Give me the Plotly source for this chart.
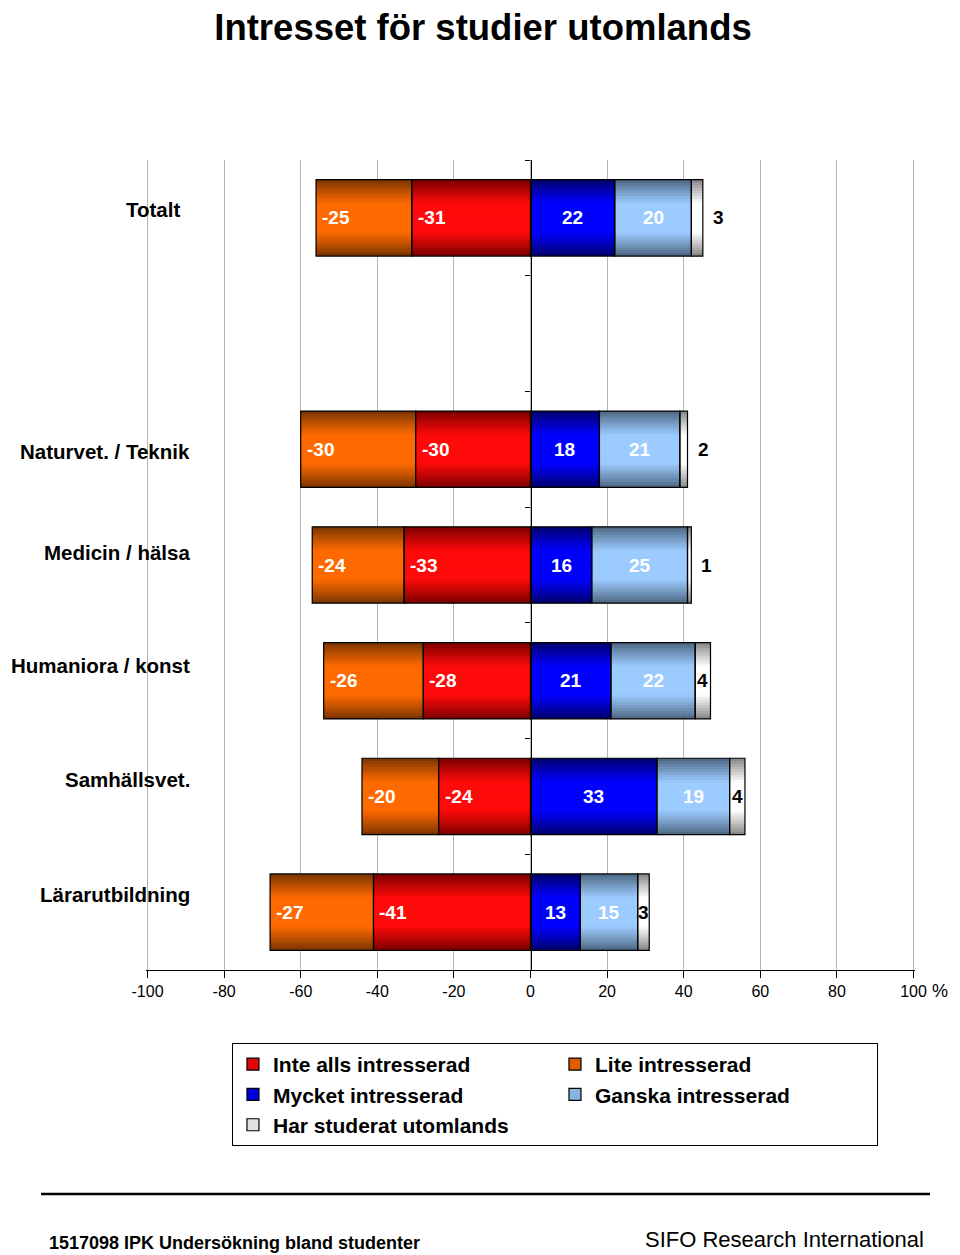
import plotly.graph_objects as go

# ---------------- data ----------------
categories = ["Totalt", " ", "Naturvet. / Teknik", "Medicin / hälsa",
              "Humaniora / konst", "Samhällsvet.", "Lärarutbildning"]
inte_alls = [-31, None, -30, -33, -28, -24, -41]      # Inte alls intresserad
lite = [-25, None, -30, -24, -26, -20, -27]           # Lite intresserad
mycket = [22, None, 18, 16, 21, 33, 13]               # Mycket intresserad
ganska = [20, None, 21, 25, 22, 19, 15]               # Ganska intresserad
har_studerat = [3, None, 2, 1, 4, 4, 3]               # Har studerat utomlands
x_ticks = [-100, -80, -60, -40, -20, 0, 20, 40, 60, 80, 100]

# ---------------- style ----------------
FONT = "Arial, Liberation Sans, Arimo, sans-serif"
BAR_W = 0.66
N_LAYERS = 14
label_yshift = [8, 0, -2, 13, 15, 17, 18]
label_xshift = [-10, 0, 0, 0, 0, 0, 0]
gray_label_outside = [True, False, True, True, False, False, False]


def hex2rgb(h):
    h = h.lstrip("#")
    return tuple(int(h[i:i + 2], 16) for i in (0, 2, 4))


def mix(c1, c2, t):
    a, b = hex2rgb(c1), hex2rgb(c2)
    return "rgb(%d,%d,%d)" % tuple(round(a[i] + (b[i] - a[i]) * t) for i in range(3))


def add(a, b):
    return [None if (x is None or y is None) else x + y for x, y in zip(a, b)]


zeros = [None if v is None else 0 for v in inte_alls]
base_inte = zeros
base_lite = inte_alls
base_mycket = zeros
base_ganska = mycket
base_har = add(mycket, ganska)

segments = [
    ("Inte alls intresserad", inte_alls, base_inte, "#7E0000", "#FF0A0A"),
    ("Lite intresserad", lite, base_lite, "#7E3600", "#FF6A00"),
    ("Mycket intresserad", mycket, base_mycket, "#000070", "#0000FF"),
    ("Ganska intresserad", ganska, base_ganska, "#506A86", "#9CCBFF"),
    ("Har studerat utomlands", har_studerat, base_har, "#8A8A8A", "#FFFFFF"),
]

fig = go.Figure()

# gradient layers (cylinder look)
for name, vals, base, dark, bright in segments:
    for k in range(N_LAYERS):
        w = BAR_W * (1 - k / N_LAYERS)
        t = min(1.0, k / (0.6 * N_LAYERS)) ** 0.9
        fig.add_trace(go.Bar(
            x=vals, y=categories, base=base, orientation="h", width=w,
            marker=dict(color=mix(dark, bright, t), line=dict(width=0)),
            showlegend=False, hoverinfo="skip"))

# outlines
for name, vals, base, dark, bright in segments:
    fig.add_trace(go.Bar(
        x=vals, y=categories, base=base, orientation="h", width=BAR_W,
        marker=dict(color="rgba(0,0,0,0)", line=dict(color="#000000", width=1.2)),
        showlegend=False, hoverinfo="skip"))

# legend entries
for name, vals, base, dark, bright in segments:
    fig.add_trace(go.Bar(
        x=[None], y=[categories[1]], orientation="h", name=name,
        marker=dict(color=mix(dark, bright, 0.75), line=dict(color="#000000", width=1.2)),
        showlegend=True))

annotations = []

# value labels
for i, cat in enumerate(categories):
    if inte_alls[i] is None:
        continue
    for vals, base in ((inte_alls, base_inte), (lite, base_lite)):
        annotations.append(dict(x=base[i] + vals[i], y=cat, xref="x", yref="y",
                                text="<b>%d</b>" % vals[i], showarrow=False,
                                xanchor="left", yanchor="middle", xshift=4,
                                font=dict(family=FONT, size=19, color="white")))
    for vals, base in ((mycket, base_mycket), (ganska, base_ganska)):
        annotations.append(dict(x=base[i] + vals[i] / 2, y=cat, xref="x", yref="y",
                                text="<b>%d</b>" % vals[i], showarrow=False,
                                xanchor="center", yanchor="middle",
                                font=dict(family=FONT, size=19, color="white")))
    if gray_label_outside[i]:
        annotations.append(dict(x=base_har[i] + har_studerat[i], y=cat, xref="x", yref="y",
                                text="<b>%d</b>" % har_studerat[i], showarrow=False,
                                xanchor="left", yanchor="middle", xshift=8,
                                font=dict(family=FONT, size=19, color="black")))
    else:
        annotations.append(dict(x=base_har[i] + har_studerat[i] / 2, y=cat, xref="x", yref="y",
                                text="<b>%d</b>" % har_studerat[i], showarrow=False,
                                xanchor="center", yanchor="middle",
                                font=dict(family=FONT, size=19, color="black")))

# category labels
for i, cat in enumerate(categories):
    if not cat.strip():
        continue
    annotations.append(dict(x=0.0598, y=cat, xref="paper", yref="y", text="<b>%s</b>" % cat,
                            showarrow=False, xanchor="right", yanchor="middle",
                            yshift=label_yshift[i], xshift=label_xshift[i],
                            font=dict(family=FONT, size=20.5, color="black")))

# percent sign
annotations.append(dict(x=1.0325, y=-0.026, xref="paper", yref="paper", text="%",
                        showarrow=False, xanchor="center", yanchor="middle",
                        font=dict(family=FONT, size=18, color="black")))
# footer
annotations.append(dict(x=-0.1287, y=-0.337, xref="paper", yref="paper",
                        text="<b>1517098 IPK Undersökning bland studenter</b>",
                        showarrow=False, xanchor="left", yanchor="middle",
                        font=dict(family=FONT, size=18, color="black")))
annotations.append(dict(x=1.0143, y=-0.3333, xref="paper", yref="paper",
                        text="SIFO Research International",
                        showarrow=False, xanchor="right", yanchor="middle",
                        font=dict(family=FONT, size=22, color="black")))

fig.update_layout(
    width=960, height=1255,
    margin=dict(l=138, r=53, t=152, b=293),
    paper_bgcolor="white", plot_bgcolor="white",
    barmode="overlay",
    font=dict(family=FONT, color="black"),
    title=dict(text="<b>Intresset för studier utomlands</b>", x=0.4948, xanchor="center",
               y=0.9849, yanchor="middle", xref="container", yref="container",
               font=dict(family=FONT, size=36.5, color="black")),
    xaxis=dict(range=[-100.4, 100.4], tickvals=x_ticks, ticktext=[str(v) for v in x_ticks],
               showgrid=True, gridcolor="#B4B4B4", gridwidth=1, zeroline=False,
               showline=True, linecolor="black", linewidth=1,
               ticks="outside", ticklen=7, tickcolor="black", tickwidth=1,
               tickfont=dict(family=FONT, size=16, color="black")),
    yaxis=dict(type="category", categoryorder="array", categoryarray=categories,
               range=[6.5, -0.5], anchor="free", position=0.5,
               showline=True, linecolor="black", linewidth=1.2,
               ticks="outside", ticklen=5, tickcolor="black", tickson="boundaries",
               showticklabels=False, showgrid=False, zeroline=False),
    legend=dict(orientation="h", x=0.1118, y=-0.0901, xanchor="left", yanchor="top",
                entrywidth=277, entrywidthmode="pixels", traceorder="normal",
                bordercolor="black", borderwidth=1, bgcolor="white",
                font=dict(family=FONT, size=21, color="black", weight="bold"),
                itemclick=False, itemdoubleclick=False),
    shapes=[dict(type="line", xref="paper", yref="paper", x0=-0.1365, x1=1.0195,
                 y0=-0.2765, y1=-0.2765, line=dict(color="black", width=2.5))],
    annotations=annotations,
)

fig.write_html("out.html")
